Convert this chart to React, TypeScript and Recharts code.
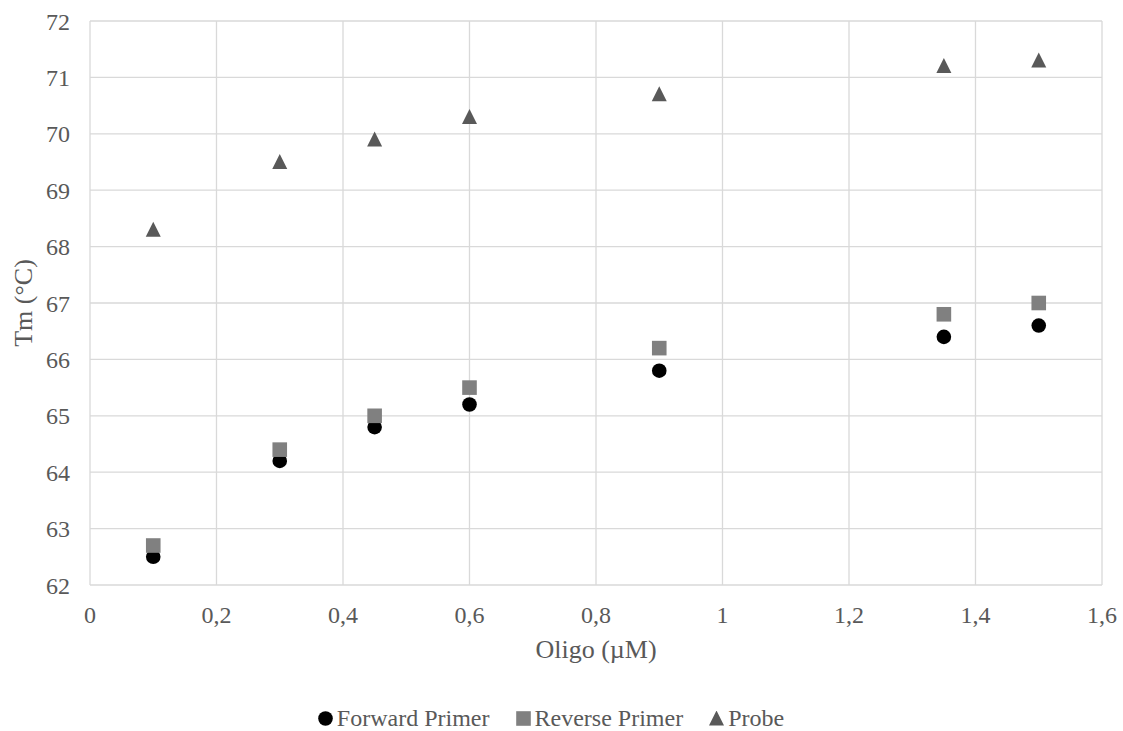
import {
  ScatterChart,
  Scatter,
  XAxis,
  YAxis,
  CartesianGrid,
  Legend,
} from "recharts";

const oligo = [0.1, 0.3, 0.45, 0.6, 0.9, 1.35, 1.5];
const forwardTm = [62.5, 64.2, 64.8, 65.2, 65.8, 66.4, 66.6];
const reverseTm = [62.7, 64.4, 65.0, 65.5, 66.2, 66.8, 67.0];
const probeTm = [68.3, 69.5, 69.9, 70.3, 70.7, 71.2, 71.3];

const xTicks = [0, 0.2, 0.4, 0.6, 0.8, 1, 1.2, 1.4, 1.6];
const yTicks = [62, 63, 64, 65, 66, 67, 68, 69, 70, 71, 72];

const FONT = '"Liberation Serif", "Times New Roman", serif';
const TEXT = "#595959";
const FS = 24;
const TITLE_FS = 26;

const toPoints = (ys: number[]) => oligo.map((x, i) => ({ x, y: ys[i] }));

const series = [
  { name: "Forward Primer", data: toPoints(forwardTm), color: "#000000", kind: "circle" },
  { name: "Reverse Primer", data: toPoints(reverseTm), color: "#808080", kind: "square" },
  { name: "Probe", data: toPoints(probeTm), color: "#595959", kind: "triangle" },
];

const Marker = ({ kind, color, cx, cy }: { kind: string; color: string; cx: number; cy: number }) => {
  if (kind === "circle") return <circle cx={cx} cy={cy} r={7.3} fill={color} />;
  if (kind === "square")
    return <rect x={cx - 7.3} y={cy - 7.3} width={14.6} height={14.6} fill={color} />;
  return (
    <polygon
      points={`${cx},${cy - 8} ${cx + 7.5},${cy + 7} ${cx - 7.5},${cy + 7}`}
      fill={color}
    />
  );
};

const LegendIcon = ({ kind, color }: { kind: string; color: string }) => (
  <svg width={15} height={15} style={{ marginRight: 4 }}>
    <Marker kind={kind} color={color} cx={7.5} cy={7.5} />
  </svg>
);

const renderLegend = () => (
  <div
    style={{
      height: 66,
      boxSizing: "border-box",
      paddingTop: 40,
      display: "flex",
      justifyContent: "center",
      alignItems: "center",
      fontFamily: FONT,
      fontSize: FS,
      color: TEXT,
      lineHeight: "26px",
    }}
  >
    {series.map((s, i) => (
      <span
        key={s.name}
        style={{ display: "flex", alignItems: "center", marginLeft: i === 0 ? 0 : 26 }}
      >
        <LegendIcon kind={s.kind} color={s.color} />
        {s.name}
      </span>
    ))}
  </div>
);

export default function App() {
  return (
    <div style={{ position: "absolute", top: 0, left: 0, background: "#fff" }}>
      <ScatterChart
        width={1123}
        height={731}
        margin={{ top: 21, right: 21, left: 0, bottom: 0 }}
      >
        <CartesianGrid stroke="#d9d9d9" strokeWidth={1.3} />
        <XAxis
          type="number"
          dataKey="x"
          domain={[0, 1.6]}
          ticks={xTicks}
          interval={0}
          height={80}
          axisLine={false}
          tickLine={false}
          tickSize={0}
          tickMargin={21}
          tickFormatter={(v: number) => String(v).replace(".", ",")}
          tick={{ fontSize: FS, fill: TEXT, fontFamily: FONT }}
          label={{
            content: (props: any) => {
              const vb = props.viewBox;
              return (
                <text
                  x={vb.x + vb.width / 2}
                  y={vb.y + 73}
                  textAnchor="middle"
                  fontSize={TITLE_FS}
                  fill={TEXT}
                  fontFamily={FONT}
                >
                  Oligo (µM)
                </text>
              );
            },
          }}
        />
        <YAxis
          type="number"
          dataKey="y"
          domain={[62, 72]}
          ticks={yTicks}
          interval={0}
          width={90}
          axisLine={false}
          tickLine={false}
          tickSize={0}
          tickMargin={20}
          tick={{ fontSize: FS, fill: TEXT, fontFamily: FONT }}
          label={{
            content: (props: any) => {
              const vb = props.viewBox;
              const cx = vb.x + 23;
              const cy = vb.y + vb.height / 2;
              return (
                <text
                  x={cx}
                  y={cy}
                  transform={`rotate(-90 ${cx} ${cy})`}
                  textAnchor="middle"
                  dominantBaseline="central"
                  fontSize={TITLE_FS}
                  fill={TEXT}
                  fontFamily={FONT}
                >
                  Tm (°C)
                </text>
              );
            },
          }}
        />
        <Legend verticalAlign="bottom" height={66} content={renderLegend} />
        {series.map((s) => (
          <Scatter
            key={s.name}
            name={s.name}
            data={s.data}
            fill={s.color}
            isAnimationActive={false}
            shape={(p: any) => <Marker kind={s.kind} color={s.color} cx={p.cx} cy={p.cy} />}
          />
        ))}
      </ScatterChart>
    </div>
  );
}
